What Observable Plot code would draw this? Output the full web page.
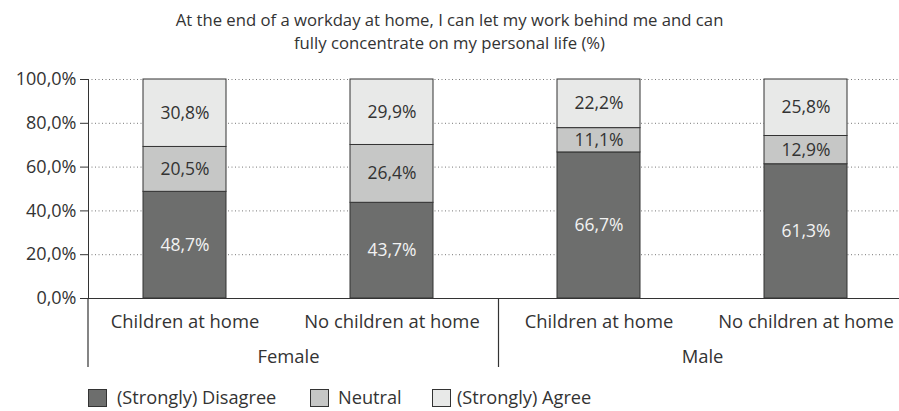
<!DOCTYPE html>
<html>
<head>
<meta charset="utf-8">
<script src="https://cdn.jsdelivr.net/npm/d3@7"></script>
<script src="https://cdn.jsdelivr.net/npm/@observablehq/plot@0.6"></script>
<style>
  html, body { margin: 0; padding: 0; background: #fff; }
  body { width: 899px; height: 411px; overflow: hidden; font-family: "Open Sans", sans-serif; color: #333; }
  #wrap { position: relative; width: 899px; height: 411px; }
  #title { position: absolute; left: 0; top: 8px; width: 899px; text-align: center; font-size: 16.7px; line-height: 23px; color: #333; }
  #chart { position: absolute; left: 0; top: 58px; }
  .lg { position: absolute; top: 387px; font-size: 18.2px; line-height: 20px; color: #333; white-space: nowrap; }
  .sw { position: absolute; top: 389px; width: 17px; height: 16px; border: 1px solid #333; }
</style>
</head>
<body>
<div id="wrap">
  <div id="title">At the end of a workday at home, I can let my work behind me and can<br>fully concentrate on my personal life (%)</div>
  <div id="chart"></div>
  <div id="legend"></div>
</div>
<script>
const genders = ["Female", "Female", "Male", "Male"];
const groups = ["Children at home", "No children at home", "Children at home", "No children at home"];
const responses = ["(Strongly) Disagree", "Neutral", "(Strongly) Agree"];
const disagree = [48.7, 43.7, 66.7, 61.3];
const neutral = [20.5, 26.4, 11.1, 12.9];
const agree = [30.8, 29.9, 22.2, 25.8];
const yTicks = [0, 20, 40, 60, 80, 100];
const colors = ["#6d6e6d", "#c6c7c6", "#e8e9e8"];
const labelColors = ["#f2f2f2", "#333333", "#333333"];

const keys = groups.map((g, i) => genders[i] + "|" + g);
const series = [disagree, neutral, agree];
const data = [];
keys.forEach((k, i) => {
  responses.forEach((r, j) => {
    data.push({key: k, gender: genders[i], group: groups[i], response: r, value: series[j][i], labelColor: labelColors[j]});
  });
});
const fmt = v => d3.format(".1f")(v).replace(".", ",") + "%";

const W = 899, H = 327, MB = 87;
const chart = Plot.plot({
  width: W,
  height: H,
  marginLeft: 88,
  marginRight: 0,
  marginTop: 21,
  marginBottom: MB,
  style: {fontFamily: "Open Sans, sans-serif", color: "#333", background: "#fff"},
  x: {domain: keys, range: [81, 909], paddingInner: 0.6, paddingOuter: 0.3, axis: null},
  y: {domain: [0, 100], axis: null, label: null},
  color: {domain: responses, range: colors},
  marks: [
    Plot.gridY(yTicks.filter(d => d > 0), {stroke: "#777", strokeOpacity: 1, strokeDasharray: "1,2.5", strokeWidth: 1}),
    Plot.barY(data, {x: "key", y: "value", fill: "response", stroke: "#333", strokeWidth: 1, order: responses}),
    Plot.text(data, Plot.stackY({x: "key", y: "value", z: "response", order: responses, text: d => fmt(d.value), fill: "labelColor", fontSize: 17.5})),
    Plot.axisY({ticks: yTicks, tickFormat: fmt, tickSize: 8, tickPadding: 4, fontSize: 18, stroke: "#333", label: null}),
    Plot.frame({anchor: "left", stroke: "#333"}),
    Plot.ruleY([0], {stroke: "#333", strokeWidth: 1.2}),
    Plot.text(keys, {x: d => d, text: (d, i) => groups[i], frameAnchor: "bottom", dy: 24, lineAnchor: "middle", fontSize: 18.4, fill: "#333"}),
    Plot.text([keys[0], keys[2]], {x: d => d, text: (d, i) => genders[i * 2], frameAnchor: "bottom", dy: 59, dx: 103.5, lineAnchor: "middle", fontSize: 18.4, fill: "#333"})
  ]
});
document.getElementById("chart").appendChild(chart);

// group separators placed via the x scale
const xs = chart.scale("x");
const svg = d3.select(chart);
const y0 = H - MB;
const sepX = [
  88,
  (xs.apply(keys[1]) + xs.bandwidth + xs.apply(keys[2])) / 2 + 3.5
];
sepX.forEach(xp => {
  svg.append("line")
    .attr("x1", xp).attr("x2", xp)
    .attr("y1", y0).attr("y2", y0 + 69)
    .attr("stroke", "#333")
    .attr("stroke-width", 1.2);
});

// legend
const lg = document.getElementById("legend");
const swX = [88, 310, 432];
const txX = [117, 338, 457];
responses.forEach((r, j) => {
  const s = document.createElement("div");
  s.className = "sw";
  s.style.left = swX[j] + "px";
  s.style.background = colors[j];
  lg.appendChild(s);
  const t = document.createElement("div");
  t.className = "lg";
  t.style.left = txX[j] + "px";
  t.textContent = r;
  lg.appendChild(t);
});
</script>
</body>
</html>
